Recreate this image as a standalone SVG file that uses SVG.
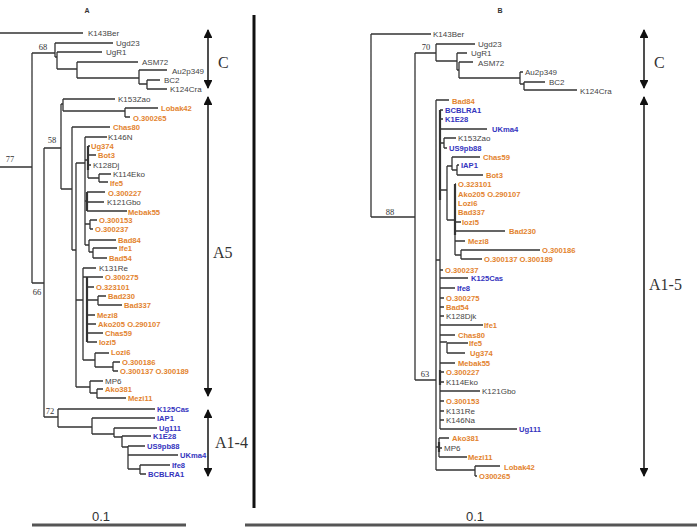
<svg xmlns="http://www.w3.org/2000/svg" width="697" height="527" viewBox="0 0 697 527">
<defs>
<style>
.br{fill:none;stroke:#333;stroke-width:1.3}
.tk{fill:none;stroke:#333;stroke-width:2.2}
.d{font-family:"Liberation Sans",Arial,sans-serif;font-size:8px;fill:#444}
.o{font-family:"Liberation Sans",Arial,sans-serif;font-size:7.6px;font-weight:bold;fill:#E3832E}
.b{font-family:"Liberation Sans",Arial,sans-serif;font-size:7.6px;font-weight:bold;fill:#3434BE}
.bs{font-family:"Liberation Serif","Times New Roman",serif;font-size:8.5px;fill:#333;text-anchor:middle}
.cl{font-family:"Liberation Serif","Times New Roman",serif;font-size:16px;fill:#333}
.pt{font-family:"Liberation Sans",Arial,sans-serif;font-size:7px;font-weight:bold;fill:#333;text-anchor:middle}
.sc{font-family:"Liberation Sans",Arial,sans-serif;font-size:13px;fill:#333;text-anchor:middle}
.ax{fill:none;stroke:#222;stroke-width:1.6}
.bar{stroke:#555;stroke-width:3}
</style>
<marker id="ah" viewBox="0 0 10 10" refX="9" refY="5" markerWidth="5.5" markerHeight="5.5" orient="auto-start-reverse" markerUnits="strokeWidth">
<path d="M0,0 L10,5 L0,10 z" fill="#111"/>
</marker>
</defs>
<rect width="697" height="527" fill="#fff"/>

<g id="connectors">
<!-- Panel A branches -->
<path class="br" d="M0 33H83 M0 167H32 M32 53V283 M32 53H55 M55 43V57 M55 43H113 M55 57H57 M57 52V69 M57 52H102 M57 69H77 M77 62V78 M77 62H138 M77 78H139 M139 70V84 M139 70H167 M139 84H147 M147 80V89 M147 80H160 M147 89H167"/>
<path class="br" d="M32 283H44 M44 148V417 M44 148H61 M61 104V189 M61 104H63 M63 99V111 M63 99H115 M63 111H125 M125 108V117 M125 108H158 M125 117H130 M61 189H72 M72 127V250 M72 127H110 M72 250H76 M76 163V387 M76 163H85 M85 137V245 M85 137H107"/>
<path class="br" d="M85 160H88 M88 146V178 M88 146H90 M88 155H96 M88 165H91 M88 178H99 M99 174V182 M99 174H111 M99 182H108 M85 201H87 M87 192V211 M87 192H105 M87 202H104 M87 211H127 M85 224H90 M90 220V229 M90 220H97 M90 229H93 M85 245H89 M89 240V252 M89 240H116 M89 252H93 M93 248V258 M93 248H117 M93 258H107"/>
<path class="br" d="M76 300H83 M83 268V360 M83 268H96 M83 277H87 M87 277H103 M87 287H94 M87 300H98 M98 296V305 M98 296H106 M98 305H122 M87 315H95 M87 324H96 M87 333H103 M87 342H97 M83 360H95 M95 353V367 M95 353H109 M95 367H113 M113 362V371 M113 362H120 M113 371H118 M76 387H90 M90 381V393 M90 381H103 M90 393H97 M97 389V398 M97 389H103 M97 398H126"/>
<path class="tk" d="M87 277V342 M88 146V170 M87 192V211"/>
<path class="br" d="M44 417H58 M58 409V427 M58 409H155 M58 427H92 M92 418V434 M92 418H155 M92 434H114 M114 428V437 M114 428H157 M114 437H122 M122 436V447 M122 436H151 M122 447H128 M128 446V469 M128 446H145 M128 455H178 M128 469H140 M140 465V474 M140 465H170 M140 474H146"/>
<!-- Panel B branches -->
<path class="br" d="M371 34V217 M371 34H431 M371 217H415 M415 53V380 M415 53H436 M436 44V61 M436 44H475 M436 61H457 M457 53V70 M457 53H467 M457 70H459 M459 62V78 M459 62H473 M459 78H520 M520 72V84 M520 72H523 M520 84H524 M524 82V90 M524 82H545 M524 90H577"/>
<path class="br" d="M415 380H436 M436 100V470 M436 100H449 M436 470H475 M475 466V476 M475 466H500 M475 476H477 M436 260H440 M440 110V429 M440 110H443 M440 119H443 M440 129H487 M440 143H444 M444 138V148 M444 138H456 M444 148H447"/>
<path class="br" d="M440 190H447 M447 166V220 M447 166H452 M452 157V170 M452 157H480 M452 170H457 M457 165V175 M457 165H459 M457 175H483 M447 220H455 M455 184V255 M455 184H456 M455 194H456 M455 203H456 M455 212H456 M455 222H461 M455 231H505 M455 241H465 M455 255H461 M461 250V259 M461 250H540 M461 259H482"/>
<path class="br" d="M440 270H443 M440 278H468 M440 288H455 M440 298H444 M440 307H444 M440 316H444 M440 325H483 M440 335H455 M440 342H447 M447 343V353 M447 343H468 M447 353H465 M440 363H455 M440 372H444 M440 382H444 M440 391H480 M440 401H444 M440 411H444 M440 420H444 M440 429H517 M436 447H439 M439 438V457 M439 438H449 M439 448H442 M439 457H467"/>
<path class="tk" d="M440 110V200 M455 184V235 M440 370V385 M439 442V452"/>
<!-- clade brackets -->
<path class="ax" d="M208 30V88" marker-start="url(#ah)" marker-end="url(#ah)"/>
<path class="ax" d="M208 97V396" marker-start="url(#ah)" marker-end="url(#ah)"/>
<path class="ax" d="M208 410V476" marker-start="url(#ah)" marker-end="url(#ah)"/>
<path class="ax" d="M644 30V88" marker-start="url(#ah)" marker-end="url(#ah)"/>
<path class="ax" d="M644 97V476" marker-start="url(#ah)" marker-end="url(#ah)"/>
<!-- divider and scale bars -->
<path d="M254 15V508" stroke="#111" stroke-width="3"/>
<path class="bar" d="M32 525H186"/>
<path class="bar" d="M245 525H697"/>
</g>

<g id="panelA">
<text class="pt" x="87" y="13">A</text>
<text class="d" x="88" y="36">K143Ber</text>
<text class="d" x="116" y="46">Ugd23</text>
<text class="d" x="106" y="55">UgR1</text>
<text class="d" x="142" y="65">ASM72</text>
<text class="d" x="172" y="74">Au2p349</text>
<text class="d" x="164" y="83">BC2</text>
<text class="d" x="170" y="92">K124Cra</text>
<text class="d" x="118" y="102">K153Zao</text>
<text class="o" x="161" y="111">Lobak42</text>
<text class="o" x="133" y="121">O.300265</text>
<text class="o" x="113" y="130">Chas80</text>
<text class="d" x="108" y="140">K146N</text>
<text class="o" x="91" y="149">Ug374</text>
<text class="o" x="98" y="158">Bot3</text>
<text class="d" x="93" y="168">K128Dj</text>
<text class="d" x="113" y="177">K114Eko</text>
<text class="o" x="110" y="186">Ife5</text>
<text class="o" x="108" y="196">O.300227</text>
<text class="d" x="107" y="205">K121Gbo</text>
<text class="o" x="128" y="215">Mebak55</text>
<text class="o" x="99" y="223">O.300153</text>
<text class="o" x="95" y="232">O.300237</text>
<text class="o" x="118" y="243">Bad84</text>
<text class="o" x="119" y="251">Ife1</text>
<text class="o" x="109" y="261">Bad54</text>
<text class="d" x="99" y="271">K131Re</text>
<text class="o" x="105" y="280">O.300275</text>
<text class="o" x="96" y="290">O.323101</text>
<text class="o" x="108" y="299">Bad230</text>
<text class="o" x="124" y="308">Bad337</text>
<text class="o" x="97" y="318">Mezi8</text>
<text class="o" x="98" y="327">Ako205 O.290107</text>
<text class="o" x="105" y="336">Chas59</text>
<text class="o" x="99" y="345">Iozi5</text>
<text class="o" x="111" y="355">Lozi6</text>
<text class="o" x="122" y="365">O.300186</text>
<text class="o" x="120" y="374">O.300137 O.300189</text>
<text class="d" x="105" y="384">MP6</text>
<text class="o" x="105" y="392">Ako381</text>
<text class="o" x="128" y="401">Mezi11</text>
<text class="b" x="157" y="412">K125Cas</text>
<text class="b" x="157" y="421">IAP1</text>
<text class="b" x="159" y="431">Ug111</text>
<text class="b" x="153" y="439">K1E28</text>
<text class="b" x="147" y="449">US9pb88</text>
<text class="b" x="180" y="458">UKma4</text>
<text class="b" x="172" y="468">Ife8</text>
<text class="b" x="148" y="477">BCBLRA1</text>
<text class="bs" x="43" y="50">68</text>
<text class="bs" x="10" y="162">77</text>
<text class="bs" x="52" y="143">58</text>
<text class="bs" x="37" y="295">66</text>
<text class="bs" x="50" y="414">72</text>
<text class="cl" x="218" y="68">C</text>
<text class="cl" x="213" y="258">A5</text>
<text class="cl" x="215" y="448">A1-4</text>
<text class="sc" x="101" y="521">0.1</text>
</g>

<g id="panelB">
<text class="pt" x="500" y="13">B</text>
<text class="d" x="433" y="37">K143Ber</text>
<text class="d" x="478" y="47">Ugd23</text>
<text class="d" x="471" y="56">UgR1</text>
<text class="d" x="478" y="66">ASM72</text>
<text class="d" x="525" y="75">Au2p349</text>
<text class="d" x="549" y="85">BC2</text>
<text class="d" x="580" y="94">K124Cra</text>
<text class="o" x="452" y="104">Bad84</text>
<text class="b" x="445" y="113">BCBLRA1</text>
<text class="b" x="445" y="122">K1E28</text>
<text class="b" x="492" y="132">UKma4</text>
<text class="d" x="458" y="141">K153Zao</text>
<text class="b" x="449" y="151">US9pb88</text>
<text class="o" x="483" y="160">Chas59</text>
<text class="b" x="461" y="168">IAP1</text>
<text class="o" x="486" y="178">Bot3</text>
<text class="o" x="458" y="187">O.323101</text>
<text class="o" x="458" y="197">Ako205 O.290107</text>
<text class="o" x="458" y="206">Lozi6</text>
<text class="o" x="458" y="215">Bad337</text>
<text class="o" x="462" y="225">Iozi5</text>
<text class="o" x="509" y="234">Bad230</text>
<text class="o" x="468" y="244">Mezi8</text>
<text class="o" x="542" y="253">O.300186</text>
<text class="o" x="484" y="262">O.300137 O.300189</text>
<text class="o" x="445" y="273">O.300237</text>
<text class="b" x="471" y="281">K125Cas</text>
<text class="b" x="457" y="291">Ife8</text>
<text class="o" x="446" y="301">O.300275</text>
<text class="o" x="446" y="310">Bad54</text>
<text class="d" x="446" y="319">K128Djk</text>
<text class="o" x="484" y="328">Ife1</text>
<text class="o" x="458" y="338">Chas80</text>
<text class="o" x="469" y="346">Ife5</text>
<text class="o" x="470" y="356">Ug374</text>
<text class="o" x="458" y="366">Mebak55</text>
<text class="o" x="446" y="375">O.300227</text>
<text class="d" x="446" y="385">K114Eko</text>
<text class="d" x="482" y="394">K121Gbo</text>
<text class="o" x="446" y="404">O.300153</text>
<text class="d" x="446" y="414">K131Re</text>
<text class="d" x="446" y="423">K146Na</text>
<text class="b" x="519" y="432">Ug111</text>
<text class="o" x="452" y="441">Ako381</text>
<text class="d" x="444" y="451">MP6</text>
<text class="o" x="468" y="460">Mezi11</text>
<text class="o" x="504" y="470">Lobak42</text>
<text class="o" x="479" y="479">O300265</text>
<text class="bs" x="426" y="50">70</text>
<text class="bs" x="390" y="215">88</text>
<text class="bs" x="425" y="377">63</text>
<text class="cl" x="654" y="68">C</text>
<text class="cl" x="649" y="290">A1-5</text>
<text class="sc" x="475" y="521">0.1</text>
</g>
</svg>
